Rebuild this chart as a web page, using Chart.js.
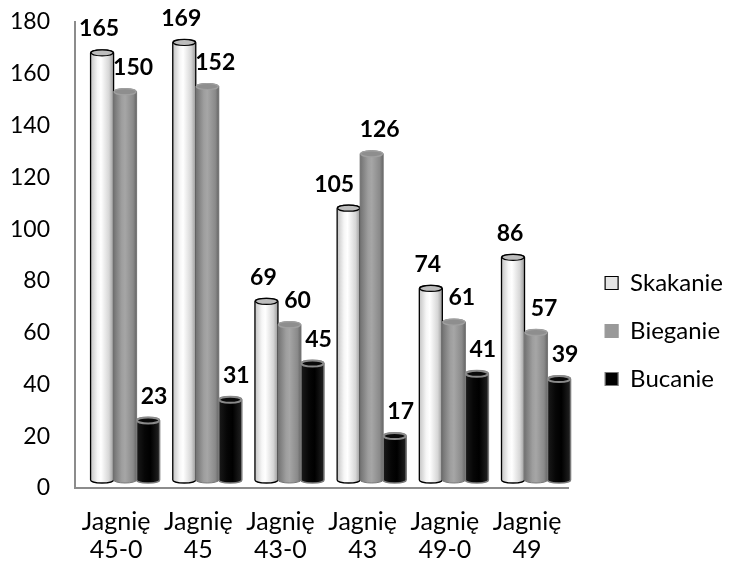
<!DOCTYPE html>
<html>
<head>
<meta charset="utf-8">
<script src="https://cdn.jsdelivr.net/npm/chart.js@4.4.1/dist/chart.umd.min.js"></script>
<style>
  html, body { margin: 0; padding: 0; background: #fff; }
</style>
</head>
<body>
<canvas id="wykres" width="735" height="566"></canvas>
<script>
// dane
const kategorie = [['Jagnię', '45-0'], ['Jagnię', '45'], ['Jagnię', '43-0'], ['Jagnię', '43'], ['Jagnię', '49-0'], ['Jagnię', '49']];
const skakanie = [165, 169, 69, 105, 74, 86];
const bieganie = [150, 152, 60, 126, 61, 57];
const bucanie = [23, 31, 45, 17, 41, 39];
const podzialkaY = [0, 20, 40, 60, 80, 100, 120, 140, 160, 180];

// wyglad walcow (3D)
const style = [
  { grad: [[0, '#c4c4c4'], [0.3, '#f6f6f6'], [0.45, '#ffffff'], [0.8, '#d6d6d6'], [1, '#9a9a9a']],
    obrys: '#000', lw: 1.3, wieko: '#bdbdbd', wiekoObrys: '#000', dx: -3 },
  { grad: [[0, '#727272'], [0.35, '#9e9e9e'], [0.5, '#a6a6a6'], [0.85, '#8a8a8a'], [1, '#666']],
    obrys: '#777', lw: 1, wieko: '#8e8e8e', wiekoObrys: '#a0a0a0', dx: 8 },
  { grad: [[0, '#1a1a1a'], [0.35, '#060606'], [0.6, '#000'], [1, '#222']],
    obrys: '#7a7a7a', lw: 1.5, wieko: '#0a0a0a', wiekoObrys: '#8a8a8a', dx: 6 }
];
const PX = 9, PY = -8;

function walec(ctx, p, s) {
  const l = p.x - p.width / 2, r = p.x + p.width / 2, rx = p.width / 2, ry = 3;
  const g = ctx.createLinearGradient(l, 0, r, 0);
  s.grad.forEach(([o, c]) => g.addColorStop(o, c));
  ctx.beginPath();
  ctx.moveTo(l, p.y);
  ctx.lineTo(l, p.base);
  ctx.ellipse(p.x, p.base, rx, ry, 0, Math.PI, 0, true);
  ctx.lineTo(r, p.y);
  ctx.ellipse(p.x, p.y, rx, ry, 0, 0, Math.PI, true);
  ctx.closePath();
  ctx.fillStyle = g;
  ctx.fill();
  ctx.lineWidth = s.lw;
  ctx.strokeStyle = s.obrys;
  ctx.stroke();
  ctx.beginPath();
  ctx.ellipse(p.x, p.y, rx - 0.5, ry, 0, 0, Math.PI * 2);
  ctx.fillStyle = s.wieko;
  ctx.fill();
  ctx.lineWidth = s === style[2] ? 2 : 1.2;
  ctx.strokeStyle = s.wiekoObrys;
  ctx.stroke();
}

const walce = {
  id: 'walce',
  afterLayout(chart) {
    const lg = chart.legend;
    lg.left += 13; lg.right += 13;
    lg.top += 225; lg.bottom += 225;
  },
  beforeDatasetsDraw(chart) {
    chart.ctx.save();
    chart.ctx.translate(PX, PY);
  },
  afterDatasetsDraw(chart) {
    const ctx = chart.ctx;
    const metas = chart.data.datasets.map((d, i) => chart.getDatasetMeta(i));
    metas.forEach((meta, di) => {
      meta.data.forEach(bar => {
        walec(ctx, bar.getProps(['x', 'y', 'base', 'width'], true), style[di]);
      });
    });
    // etykiety wartosci
    ctx.font = 'bold 23px Lato';
    ctx.fillStyle = '#000';
    ctx.textAlign = 'center';
    ctx.textBaseline = 'middle';
    metas.forEach((meta, di) => {
      meta.data.forEach((bar, i) => {
        const txt = String(chart.data.datasets[di].data[i]);
        const w = ctx.measureText(txt).width;
        let x = bar.x + style[di].dx;
        const y = bar.y - 24;
        const nast = metas[di + 1] && metas[di + 1].data[i];
        if (nast && nast.y < y + 10 && x + w / 2 > nast.x - nast.width / 2 - 6) {
          x = nast.x - nast.width / 2 - 6 - w / 2;
        }
        ctx.fillText(txt, x, y);
      });
    });
    ctx.restore();
  }
};

new Chart(document.getElementById('wykres'), {
  type: 'bar',
  data: {
    labels: kategorie,
    datasets: [
      { label: 'Skakanie', data: skakanie, backgroundColor: '#e4e4e4', borderColor: '#000', borderWidth: 0 },
      { label: 'Bieganie', data: bieganie, backgroundColor: '#999999', borderColor: '#999999', borderWidth: 0 },
      { label: 'Bucanie', data: bucanie, backgroundColor: '#000000', borderColor: '#777', borderWidth: 0 }
    ]
  },
  options: {
    responsive: false,
    animation: false,
    layout: { padding: { left: 8, top: 22, right: 15, bottom: 2 } },
    datasets: { bar: { categoryPercentage: 0.84, barPercentage: 1 } },
    plugins: {
      tooltip: { enabled: false },
      legend: {
        position: 'right',
        align: 'start',
        labels: {
          boxWidth: 13, boxHeight: 13, padding: 24, color: '#000',
          font: { family: 'Lato', size: 24 },
          generateLabels(chart) {
            const obr = ['#000', '#999', '#777'];
            return chart.data.datasets.map((d, i) => ({
              text: d.label, fillStyle: d.backgroundColor, strokeStyle: obr[i],
              lineWidth: 1.2, datasetIndex: i, hidden: false, fontColor: '#000'
            }));
          }
        }
      }
    },
    scales: {
      x: {
        grid: { display: false },
        border: { color: '#8c8c8c', width: 2 },
        afterFit(ax) { ax.height = 76; },
        ticks: { color: '#000', font: { family: 'Lato', size: 25, lineHeight: 1.12 }, padding: 12, maxRotation: 0 }
      },
      y: {
        min: 0, max: 180,
        grid: { display: false },
        border: { color: '#8c8c8c', width: 2 },
        afterFit(ax) { ax.width = 67; ax.paddingTop = 0; ax.paddingBottom = 0; },
        afterBuildTicks(ax) { ax.ticks = podzialkaY.map(v => ({ value: v })); },
        ticks: { color: '#000', font: { family: 'Lato', size: 23 }, padding: 17 }
      }
    }
  },
  plugins: [walce]
});
</script>
</body>
</html>
